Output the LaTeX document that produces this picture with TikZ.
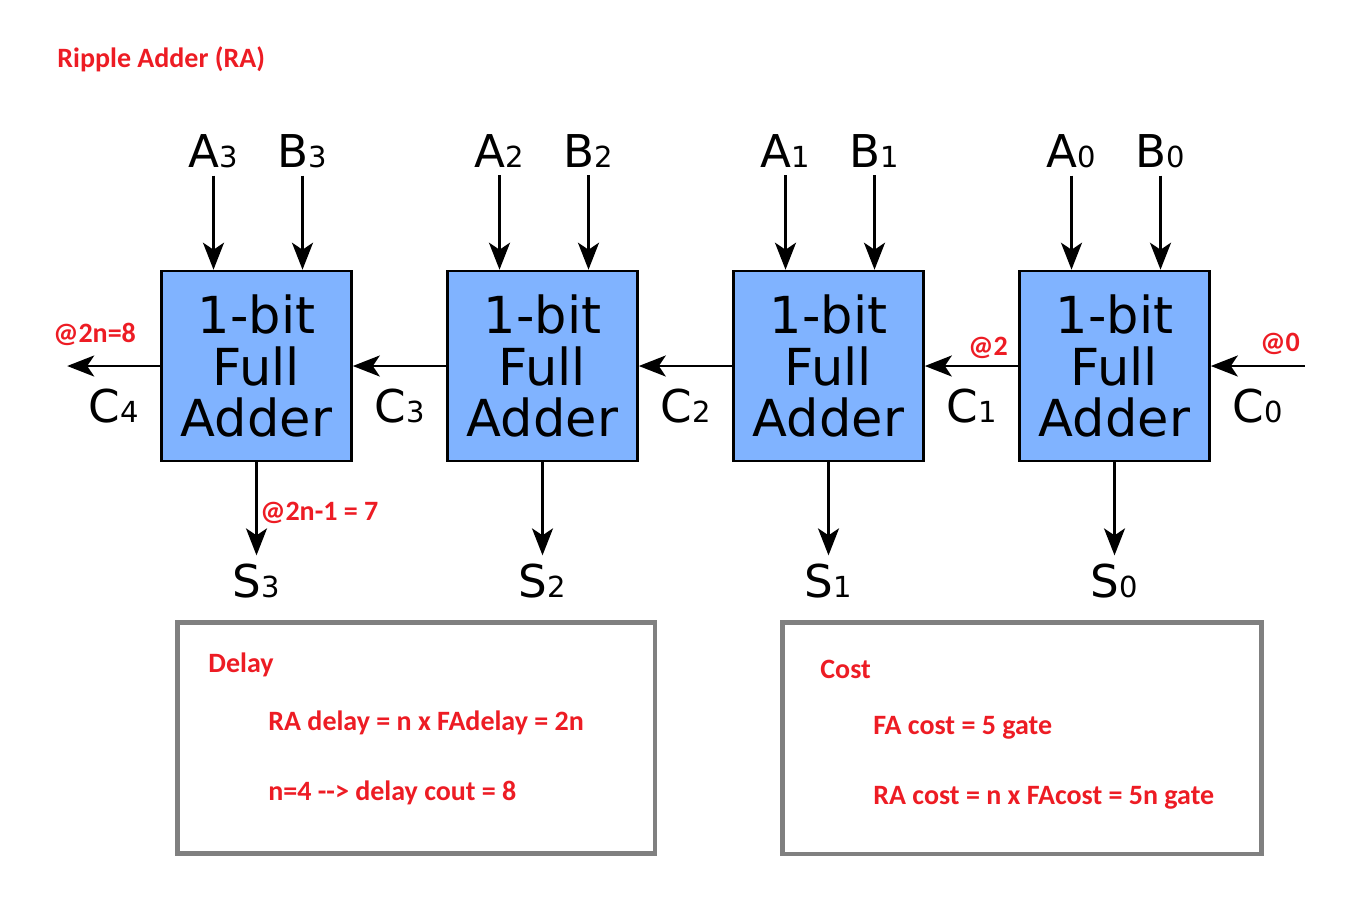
\documentclass[tikz,border=0pt]{standalone}
\usepackage{fontspec}
\setmainfont{DejaVu Sans}
\newfontfamily\notefont{Carlito}
\usetikzlibrary{positioning,calc,arrows.meta}
\definecolor{fablue}{HTML}{80B3FF}
\definecolor{notered}{HTML}{ED1C24}
\newcommand{\sig}[2]{{\fontsize{22.6}{24}\selectfont #1}{\fontsize{14.5}{15}\selectfont #2}}

\begin{document}
\begin{tikzpicture}
    [x=0.5pt,y=-0.5pt,node distance=46.7pt,
     fa/.style={draw,line width=1.3pt,fill=fablue,minimum size=95pt,inner sep=0pt,
                align=center,font=\fontsize{25.5}{25.7}\selectfont},
     wire/.style={line width=1.3pt,-{Stealth[length=13.5pt,width=10.5pt,inset=3.5pt]}},
     inlbl/.style={anchor=base,inner sep=3.5pt},
     outlbl/.style={anchor=base,inner sep=4pt},
     rednote/.style={anchor=base west,inner sep=0pt,text=notered,
                     font=\notefont\bfseries\fontsize{14}{14}\selectfont},
     frame/.style={draw=gray,line width=2.3pt}]
    \useasboundingbox (0,0) rectangle (1358,922);
    % the four full adders
    \node[fa] (fa3) at (256.5,366) {1-bit\\Full\\Adder};
    \node[fa] (fa2) [right=of fa3] {1-bit\\Full\\Adder};
    \node[fa] (fa1) [right=of fa2] {1-bit\\Full\\Adder};
    \node[fa] (fa0) [right=of fa1] {1-bit\\Full\\Adder};
    % inputs
    \node[inlbl] (a3) at ($(fa3.north)+(-43,-102)$) {\sig{A}{3}};
    \node[inlbl] (b3) at ($(fa3.north)+(46,-102)$) {\sig{B}{3}};
    \node[inlbl] (a2) at ($(fa2.north)+(-43,-102)$) {\sig{A}{2}};
    \node[inlbl] (b2) at ($(fa2.north)+(46,-102)$) {\sig{B}{2}};
    \node[inlbl] (a1) at ($(fa1.north)+(-43,-102)$) {\sig{A}{1}};
    \node[inlbl] (b1) at ($(fa1.north)+(46,-102)$) {\sig{B}{1}};
    \node[inlbl] (a0) at ($(fa0.north)+(-43,-102)$) {\sig{A}{0}};
    \node[inlbl] (b0) at ($(fa0.north)+(46,-102)$) {\sig{B}{0}};
    \draw[wire] (a3.south) -- (a3.south |- fa3.north);
    \draw[wire] (b3.south) -- (b3.south |- fa3.north);
    \draw[wire] (a2.south) -- (a2.south |- fa2.north);
    \draw[wire] (b2.south) -- (b2.south |- fa2.north);
    \draw[wire] (a1.south) -- (a1.south |- fa1.north);
    \draw[wire] (b1.south) -- (b1.south |- fa1.north);
    \draw[wire] (a0.south) -- (a0.south |- fa0.north);
    \draw[wire] (b0.south) -- (b0.south |- fa0.north);
    % sums
    \node[outlbl] (s3) at ($(fa3.south)+(0,135)$) {\sig{S}{3}};
    \node[outlbl] (s2) at ($(fa2.south)+(0,135)$) {\sig{S}{2}};
    \node[outlbl] (s1) at ($(fa1.south)+(0,135)$) {\sig{S}{1}};
    \node[outlbl] (s0) at ($(fa0.south)+(0,135)$) {\sig{S}{0}};
    \draw[wire] (fa3.south) -- (s3.north);
    \draw[wire] (fa2.south) -- (s2.north);
    \draw[wire] (fa1.south) -- (s1.north);
    \draw[wire] (fa0.south) -- (s0.north);
    % carry chain
    \coordinate (cin) at ([xshift=47pt]fa0.east);
    \coordinate (cout) at ([xshift=-46.5pt]fa3.west);
    \draw[wire] (cin) -- (fa0.east);
    \draw[wire] (fa0.west) -- (fa1.east);
    \draw[wire] (fa1.west) -- (fa2.east);
    \draw[wire] (fa2.west) -- (fa3.east);
    \draw[wire] (fa3.west) -- (cout);
    \node[anchor=base] (c0) at ($(fa0.east)!.5!(cin)+(0,56)$) {\sig{C}{0}};
    \node[anchor=base] (c1) at ($(fa1.east)!.5!(fa0.west)+(0,56)$) {\sig{C}{1}};
    \node[anchor=base] (c2) at ($(fa2.east)!.5!(fa1.west)+(0,56)$) {\sig{C}{2}};
    \node[anchor=base] (c3) at ($(fa3.east)!.5!(fa2.west)+(0,56)$) {\sig{C}{3}};
    \node[anchor=base] (c4) at ($(cout)!.5!(fa3.west)+(0,56)$) {\sig{C}{4}};
    % timing notes
    \node[rednote] (title) at (57,67) {Ripple Adder (RA)};
    \node[rednote] (t0) at (1260,351) {@0};
    \node[rednote] (t2) at (968,355) {@2};
    \node[rednote] (tc) at (53,342) {@2n=8};
    \node[rednote] (ts) at (260,520) {@2n-1 = 7};
    % delay and cost boxes
    \draw[frame] (177.5,622.5) rectangle (655,853.5);
    \node[rednote] (delay) at (208,672) {Delay};
    \node[rednote] (delay1) at (268,730) {RA delay = n x FAdelay = 2n};
    \node[rednote] (delay2) at (268,800) {n=4 -{}-> delay cout = 8};
    \draw[frame] (782.5,622.5) rectangle (1261.5,854);
    \node[rednote] (cost) at (820,678) {Cost};
    \node[rednote] (cost1) at (873,734) {FA cost = 5 gate};
    \node[rednote] (cost2) at (873,804) {RA cost = n x FAcost = 5n gate};
\end{tikzpicture}
\end{document}
